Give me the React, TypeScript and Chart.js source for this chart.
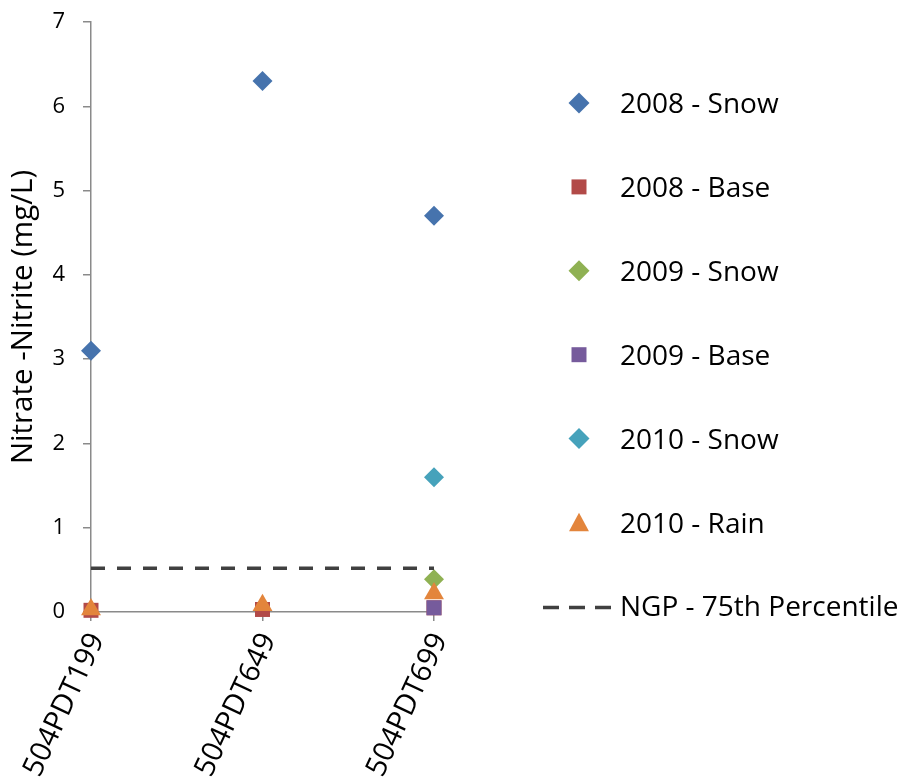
import React, { useEffect, useRef } from 'react';
import { Chart, registerables } from 'chart.js';

Chart.register(...registerables);

// ---- data ----
const sites = ['504PDT199', '504PDT649', '504PDT699'];
const snow2008: (number | null)[] = [3.1, 6.3, 4.7];
const base2008: (number | null)[] = [0.02, 0.03, 0.05];
const snow2009: (number | null)[] = [null, null, 0.39];
const base2009: (number | null)[] = [null, null, 0.05];
const snow2010: (number | null)[] = [null, null, 1.6];
const rain2010: (number | null)[] = [0.03, 0.08, 0.22];
const ngp75: number[] = [0.52, 0.52, 0.52];
const seriesLabels = ['2008 - Snow', '2008 - Base', '2009 - Snow', '2009 - Base', '2010 - Snow', '2010 - Rain', 'NGP - 75th Percentile'];
const yMin = 0;
const yMax = 7;
const yStep = 1;
const yTitle = 'Nitrate -Nitrite (mg/L)';

// ---- styles ----
const FONT = '"Open Sans", "DejaVu Sans", sans-serif';
const AXIS = '#8a8a8a';
const markerSeries = [
  { data: snow2008, color: '#4673ad', style: 'rectRot', r: 10 },
  { data: base2008, color: '#b24a48', style: 'rect', r: 10.6 },
  { data: snow2009, color: '#8fb153', style: 'rectRot', r: 10 },
  { data: base2009, color: '#765b9c', style: 'rect', r: 10.6 },
  { data: snow2010, color: '#46a2bb', style: 'rectRot', r: 10 },
  { data: rain2010, color: '#e3853c', style: 'triangle', r: 11.5 },
];
const NGP_COLOR = '#404040';

function drawMarker(ctx: CanvasRenderingContext2D, style: string, x: number, y: number, r: number, color: string) {
  ctx.fillStyle = color;
  ctx.beginPath();
  if (style === 'rectRot') {
    ctx.moveTo(x - r, y);
    ctx.lineTo(x, y - r);
    ctx.lineTo(x + r, y);
    ctx.lineTo(x, y + r);
  } else if (style === 'rect') {
    const s = r * Math.SQRT1_2;
    ctx.rect(x - s, y - s, 2 * s, 2 * s);
  } else {
    const w = r * Math.sqrt(3) / 2;
    ctx.moveTo(x, y - r * 0.85);
    ctx.lineTo(x + w, y + r * 0.75);
    ctx.lineTo(x - w, y + r * 0.75);
  }
  ctx.closePath();
  ctx.fill();
}

const legendPlugin = {
  id: 'sideLegend',
  afterDraw(chart: any) {
    const ctx: CanvasRenderingContext2D = chart.ctx;
    ctx.save();
    ctx.font = `28px ${FONT}`;
    ctx.textBaseline = 'alphabetic';
    ctx.textAlign = 'left';
    seriesLabels.forEach((label, i) => {
      const cy = 103 + 83.9 * i;
      if (i < markerSeries.length) {
        const s = markerSeries[i];
        drawMarker(ctx, s.style, 579, cy, s.style === 'triangle' ? 11.5 : s.style === 'rect' ? 10.6 : 10.5, s.color);
      } else {
        ctx.strokeStyle = NGP_COLOR;
        ctx.lineWidth = 3.5;
        ctx.setLineDash([16, 10]);
        ctx.beginPath();
        ctx.moveTo(543, cy + 1);
        ctx.lineTo(613, cy + 1);
        ctx.stroke();
        ctx.setLineDash([]);
      }
      ctx.fillStyle = '#000';
      ctx.fillText(label, 620, cy + 10);
    });
    ctx.restore();
  },
};

export default function App() {
  const ref = useRef<HTMLCanvasElement | null>(null);
  useEffect(() => {
    if (!ref.current) return;
    const datasets: any[] = markerSeries.map((s, i) => ({
      label: seriesLabels[i],
      data: s.data,
      showLine: false,
      pointStyle: s.style,
      pointRadius: s.r,
      pointHoverRadius: s.r,
      pointBackgroundColor: s.color,
      pointBorderColor: s.color,
      pointBorderWidth: 0,
      backgroundColor: s.color,
      borderColor: s.color,
      clip: false,
      order: 20 - i,
    }));
    datasets.push({
      label: seriesLabels[6],
      data: ngp75,
      showLine: true,
      borderColor: NGP_COLOR,
      borderWidth: 3.5,
      borderDash: [14, 12],
      pointRadius: 0,
      fill: false,
      clip: false,
      order: 1,
    });
    const chart = new Chart(ref.current, {
      type: 'line',
      data: { labels: sites, datasets },
      options: {
        animation: false,
        responsive: false,
        layout: { padding: { top: 22, right: 468, left: 0, bottom: 0 } },
        plugins: { legend: { display: false }, tooltip: { enabled: false } },
        scales: {
          x: {
            type: 'category',
            offset: false,
            grid: { display: true, drawOnChartArea: false, drawTicks: true, tickLength: 9, color: AXIS, lineWidth: 1.5 },
            border: { display: true, color: AXIS, width: 1.5 },
            ticks: {
              autoSkip: false,
              minRotation: 65,
              maxRotation: 65,
              padding: 7,
              labelOffset: 6,
              color: '#000',
              font: { family: FONT, size: 29 },
            },
            afterFit: (s: any) => {
              s.height = 169;
              s.paddingLeft = 0;
              s.paddingRight = 0;
            },
          },
          y: {
            min: yMin,
            max: yMax,
            grid: { display: true, drawOnChartArea: false, drawTicks: true, tickLength: 8, color: AXIS, lineWidth: 1.5 },
            border: { display: true, color: AXIS, width: 1.5 },
            ticks: { stepSize: yStep, padding: 18, color: '#000', font: { family: FONT, size: 22 } },
            title: {
              display: true,
              text: yTitle,
              color: '#000',
              font: { family: FONT, size: 29.5 },
              padding: { top: 6, bottom: 0 },
            },
            afterFit: (s: any) => {
              s.width = 91;
              s.paddingTop = 0;
              s.paddingBottom = 0;
            },
          },
        },
      },
      plugins: [legendPlugin],
    });
    return () => chart.destroy();
  }, []);
  return (
    <div style={{ position: 'absolute', left: 0, top: 0, width: 902, height: 781, background: '#fff' }}>
      <canvas ref={ref} width={902} height={781} style={{ display: 'block' }} />
    </div>
  );
}
